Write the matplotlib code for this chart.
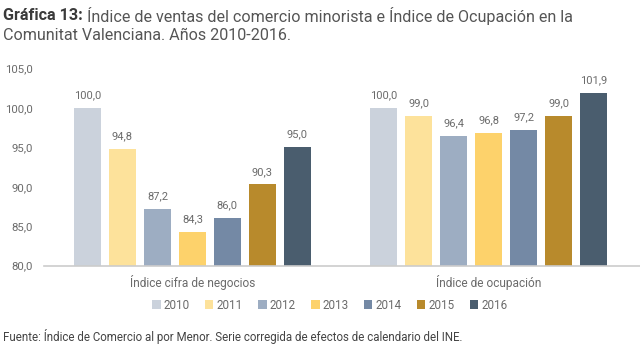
import matplotlib
matplotlib.use("Agg")
import matplotlib.pyplot as plt
import numpy as np
from matplotlib.patches import Patch

plt.rcParams['font.family'] = ['Roboto', 'DejaVu Sans']

categories = ["Índice cifra de negocios", "Índice de ocupación"]
years = ["2010", "2011", "2012", "2013", "2014", "2015", "2016"]
values = {
    "2010": [100.0, 100.0],
    "2011": [94.8, 99.0],
    "2012": [87.2, 96.4],
    "2013": [84.3, 96.8],
    "2014": [86.0, 97.2],
    "2015": [90.3, 99.0],
    "2016": [95.0, 101.9],
}
colors = ["#cbd2dc", "#fde29b", "#9dadc2", "#fdd26b", "#7489a5", "#b88a2c", "#4a5d6e"]
yticks = [80, 85, 90, 95, 100, 105]

fig = plt.figure(figsize=(6.4, 3.48), dpi=100)
ax = fig.add_axes([0.069, 0.237, 0.931, 0.566])

x = np.arange(len(categories))
step = 0.118
width = 0.091
label_color = "#6b6b6b"
for i, yr in enumerate(years):
    pos = x + (i - 3) * step
    ax.bar(pos, [v - 80 for v in values[yr]], width, bottom=80, color=colors[i], label=yr)
    for xp, v in zip(pos, values[yr]):
        ax.annotate(f"{v:.1f}".replace(".", ","), (xp, v), xytext=(0, 5.5), textcoords="offset points",
                    ha="center", va="bottom", fontsize=8, color=label_color)

ax.set_xlim(-0.5, 1.51)
ax.set_ylim(80, 105)
ax.set_yticks(yticks)
ax.set_yticklabels([f"{t:.1f}".replace(".", ",") for t in yticks], fontsize=8.2, color=label_color)
ax.set_xticks(x)
ax.set_xticklabels(categories, fontsize=8.6, color=label_color)
ax.tick_params(axis="both", length=0)
ax.tick_params(axis="y", pad=8)
ax.tick_params(axis="x", pad=7)
for s in ["top", "right", "left"]:
    ax.spines[s].set_visible(False)
ax.spines["bottom"].set_color("#cccccc")
ax.spines["bottom"].set_linewidth(1.2)

handles = [Patch(facecolor=c, label=y) for c, y in zip(colors, years)]
leg = fig.legend(handles=handles, loc="center", bbox_to_anchor=(0.515, 0.123), ncol=7, frameon=False,
                 fontsize=8.4, handlelength=0.75, handleheight=0.75, handletextpad=0.25, columnspacing=1.3)
for t in leg.get_texts():
    t.set_color(label_color)

# Title with bold prefix placed by measured width
t1 = fig.text(0.005, 0.955, "Gráfica 13:", fontsize=11.6, fontweight="bold", color="#3a3a3a", va="center")
fig.canvas.draw()
bb = t1.get_window_extent(renderer=fig.canvas.get_renderer())
x_after = bb.x1 / fig.bbox.width + 0.006
fig.text(x_after, 0.955, "Índice de ventas del comercio minorista e Índice de Ocupación en la",
         fontsize=11.6, color="#555555", va="center")
fig.text(0.005, 0.897, "Comunitat Valenciana. Años 2010-2016.", fontsize=11.6, color="#555555", va="center")
fig.text(0.005, 0.032, "Fuente: Índice de Comercio al por Menor. Serie corregida de efectos de calendario del INE.",
         fontsize=8.3, color="#444444", va="center")

fig.savefig("out.png", dpi=100, facecolor="white")
